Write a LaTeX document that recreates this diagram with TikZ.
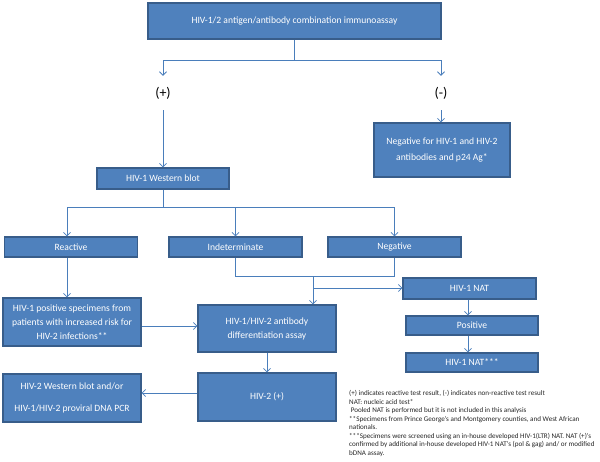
\documentclass[tikz,border=0pt]{standalone}
\usepackage{fontspec}
\setmainfont{Carlito}
\usetikzlibrary{arrows.meta}
\definecolor{boxfill}{HTML}{4F81BD}
\definecolor{boxline}{HTML}{385D8A}
\definecolor{connc}{HTML}{4A7EBB}
\begin{document}
\begin{tikzpicture}[x=1pt,y=-1pt,
  box/.style={draw=boxline,line width=1.2pt,fill=boxfill,text=white,
    font=\fontsize{9.6}{14}\selectfont,align=center,inner sep=0pt,anchor=center},
  conn/.style={draw=connc,line width=0.8pt},
  arr/.style={conn,-{Straight Barb[length=3.5pt,width=7pt]}},
  lbl/.style={font=\fontsize{14}{16}\selectfont,minimum height=34pt,inner sep=0pt,text=black}]
\useasboundingbox (0,0) rectangle (600,461);

\node[box,minimum width=293pt,minimum height=36pt] (top) at (294.5,21) {HIV-1/2 antigen/antibody combination immunoassay};
\node[lbl] (plus) at (163,93) {(+)};
\node[lbl] (minus) at (441,93) {(-)};
\node[box,minimum width=136pt,minimum height=54pt] (neg1) at (442,150) {Negative for HIV-1 and HIV-2\\[2pt]antibodies and p24 Ag*};
\node[box,minimum width=132pt,minimum height=21pt] (wb) at (163,178.5) {HIV-1 Western blot};
\node[box,minimum width=133pt,minimum height=20pt] (react) at (71,247) {Reactive};
\node[box,minimum width=133pt,minimum height=20pt] (indet) at (235.5,247) {Indeterminate};
\node[box,minimum width=133pt,minimum height=20pt] (negwb) at (394.5,247) {Negative};
\node[box,minimum width=133pt,minimum height=21pt] (nat) at (469.5,288.5) {HIV-1 NAT};
\node[box,minimum width=132pt,minimum height=19pt] (pos) at (472,325.5) {Positive};
\node[box,minimum width=132pt,minimum height=19pt] (nat3) at (472,362.5) {HIV-1 NAT***};
\node[box,minimum width=138pt,minimum height=48pt] (hivpos) at (72,322) {HIV-1 positive specimens from\\patients with increased risk for\\HIV-2 infections**};
\node[box,minimum width=138pt,minimum height=47pt] (diff) at (267,328.5) {HIV-1/HIV-2 antibody\\differentiation assay};
\node[box,minimum width=138pt,minimum height=48pt] (hivtwo) at (267,397) {HIV-2 (+)};
\node[box,minimum width=138pt,minimum height=48pt] (hivtwowb) at (72,398) {HIV-2 Western blot and/or\\[8pt]HIV-1/HIV-2 proviral DNA PCR};

\node[anchor=north west,align=left,inner sep=0pt,text=black!85,
  font=\fontsize{7.1}{8.6}\selectfont] (notes) at (349,390) {%
(+) indicates reactive test result, (-) indicates non-reactive test result\\
NAT: nucleic acid test*\\
\ Pooled NAT is performed but it is not included in this analysis\\
**Specimens from Prince George's and Montgomery counties, and West African\\
nationals.\\
***Specimens were screened using an in-house developed HIV-1(LTR) NAT. NAT (+)'s\\
confirmed by additional in-house developed HIV-1 NAT's (pol \& gag) and/ or modified\\
bDNA assay.};

% connectors
\draw[conn] (top.south) -- (top.south |- 0,60) coordinate (j1);
\draw[arr] (j1) -| (plus.north);
\draw[arr] (j1) -| (minus.north);
\draw[arr] (plus.south) -- (plus.south |- wb.north);
\draw[arr] (minus.south) -- (minus.south |- neg1.north);
\draw[conn] (wb.south) -- (wb.south |- 0,207) coordinate (j2);
\draw[arr] (j2) -| ([xshift=-4pt]react.north);
\draw[arr] (j2) -| (indet.north);
\draw[arr] (j2) -| (negwb.north);
\draw[conn] (indet.south) -- ++(0,19) -| (negwb.south);
\coordinate (j3) at (313,276);
\coordinate (j4) at (313,288);
\draw[arr] (j3) -- (j3 |- diff.north);
\draw[arr] (j4) -- (j4 -| nat.west);
\draw[arr] ([xshift=-1.5pt]nat.south) -- ([xshift=-1.5pt]nat.south |- pos.north);
\draw[arr] ([xshift=-1.5pt]nat.south |- pos.south) -- ([xshift=-1.5pt]nat.south |- nat3.north);
\draw[arr] ([xshift=-4pt]react.south) -- ([xshift=-4pt]react.south |- hivpos.north);
\draw[arr] ([yshift=-4pt]hivpos.east) -- ([yshift=-4pt]hivpos.east -| diff.west);
\draw[arr] (diff.south) -- (hivtwo.north);
\draw[arr] ([yshift=4pt]hivtwo.west) -- ([yshift=4pt]hivtwo.west -| hivtwowb.east);
\end{tikzpicture}
\end{document}
